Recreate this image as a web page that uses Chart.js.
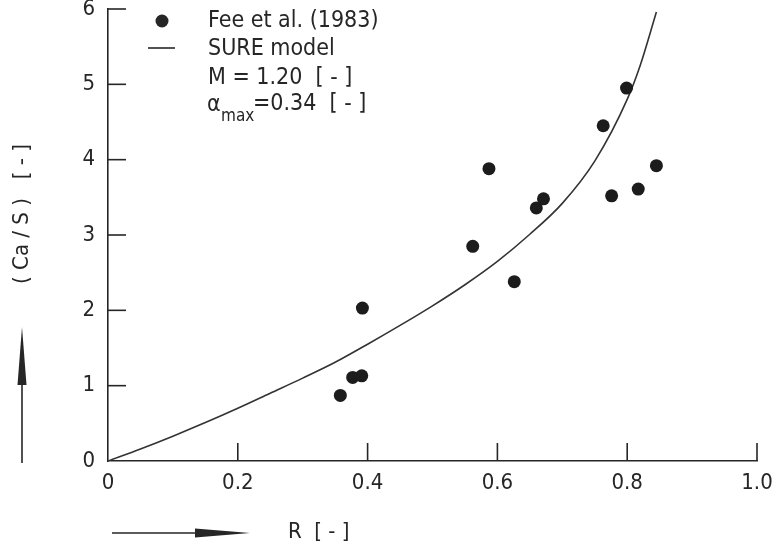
<!DOCTYPE html>
<html>
<head>
<meta charset="utf-8">
<script src="https://cdn.jsdelivr.net/npm/chart.js@4.4.0/dist/chart.umd.min.js"></script>
<style>
  html, body { margin: 0; padding: 0; background: #fff; }
  #wrap { width: 776px; height: 547px; position: relative; }
</style>
</head>
<body>
<div id="wrap"><canvas id="caChart"></canvas></div>
<script>
// DATA
const feeR   = [0.358, 0.377, 0.391, 0.392, 0.562, 0.587, 0.626, 0.660, 0.671, 0.763, 0.776, 0.799, 0.817, 0.845];
const feeCaS = [0.87, 1.11, 1.13, 2.03, 2.85, 3.88, 2.38, 3.36, 3.48, 4.45, 3.52, 4.95, 3.61, 3.92];

const sureR   = [0, 0.05, 0.10, 0.15, 0.20, 0.25, 0.30, 0.35, 0.40, 0.45, 0.50, 0.55, 0.60, 0.65, 0.70, 0.75, 0.80, 0.82, 0.845];
const sureCaS = [0, 0.16, 0.33, 0.51, 0.70, 0.90, 1.10, 1.31, 1.55, 1.80, 2.06, 2.34, 2.65, 3.01, 3.42, 3.98, 4.80, 5.25, 5.96];

const xTicks = [0, 0.2, 0.4, 0.6, 0.8, 1.0];
const xTickLabels = ["0", "0.2", "0.4", "0.6", "0.8", "1.0"];
const yTicks = [0, 1, 2, 3, 4, 5, 6];

const legendLines = ["Fee et al. (1983)", "SURE model", "M = 1.20  [ - ]"];
const xTitle = "R  [ - ]";
const yTitle = "( Ca / S )   [ - ]";

const ink = '#262626';
const fontName = "'DejaVu Sans Condensed', 'DejaVu Sans', sans-serif";
Chart.defaults.font.family = fontName;
Chart.defaults.color = ink;

// PLUGIN: inward ticks, legend text, axis titles with arrows
const paperPlugin = {
    id: 'paper',
    afterDraw(chart) {
        const ctx = chart.ctx;
        const xs = chart.scales.x;
        const ys = chart.scales.y;
        const area = chart.chartArea;
        ctx.save();
        ctx.strokeStyle = ink;
        ctx.fillStyle = ink;
        ctx.lineWidth = 1.6;

        // inward tick marks
        xTicks.forEach(function(v){
            if (v === 0) return;
            let px = xs.getPixelForValue(v);
            ctx.beginPath();
            ctx.moveTo(px, area.bottom);
            ctx.lineTo(px, area.bottom - 18);
            ctx.stroke();
        });
        yTicks.forEach(function(v){
            if (v === 0) return;
            let py = ys.getPixelForValue(v);
            ctx.beginPath();
            ctx.moveTo(area.left, py);
            ctx.lineTo(area.left + 18, py);
            ctx.stroke();
        });

        // legend
        ctx.font = "23px " + fontName;
        ctx.textBaseline = 'middle';
        ctx.textAlign = 'left';
        ctx.beginPath();
        ctx.arc(162, 21, 6.5, 0, Math.PI * 2);
        ctx.fill();
        ctx.beginPath();
        ctx.moveTo(148, 48);
        ctx.lineTo(175, 48);
        ctx.stroke();
        ctx.fillText(legendLines[0], 208, 21);
        ctx.fillText(legendLines[1], 208, 49);
        ctx.fillText(legendLines[2], 208, 78);
        ctx.fillText("\u03b1", 207, 105);
        ctx.font = "17px " + fontName;
        ctx.fillText("max", 221, 117);
        ctx.font = "23px " + fontName;
        ctx.fillText("=0.34  [ - ]", 253, 104);

        // x title + arrow
        ctx.font = "22px " + fontName;
        ctx.beginPath();
        ctx.moveTo(112, 533);
        ctx.lineTo(200, 533);
        ctx.stroke();
        ctx.beginPath();
        ctx.moveTo(195, 528.5);
        ctx.lineTo(250, 533);
        ctx.lineTo(195, 537.5);
        ctx.closePath();
        ctx.fill();
        ctx.fillText(xTitle, 288, 532);

        // y title + arrow
        ctx.beginPath();
        ctx.moveTo(22, 463);
        ctx.lineTo(22, 380);
        ctx.stroke();
        ctx.beginPath();
        ctx.moveTo(17.5, 385);
        ctx.lineTo(22, 327);
        ctx.lineTo(26.5, 385);
        ctx.closePath();
        ctx.fill();
        ctx.translate(22, 214);
        ctx.rotate(-Math.PI / 2);
        ctx.textAlign = 'center';
        ctx.fillText(yTitle, 0, 0);
        ctx.restore();
    }
};

const chartData = {
    datasets: [
        {
            label: 'Fee et al. (1983)',
            data: feeR.map((r, i) => ({ x: r, y: feeCaS[i] })),
            pointRadius: 6.5,
            pointBackgroundColor: '#1c1c1c',
            pointBorderWidth: 0,
            showLine: false
        },
        {
            label: 'SURE model',
            data: sureR.map((r, i) => ({ x: r, y: sureCaS[i] })),
            showLine: true,
            pointRadius: 0,
            borderColor: '#333',
            borderWidth: 1.6,
            cubicInterpolationMode: 'monotone'
        }
    ]
};

const chartConfig = {
    type: 'scatter',
    data: chartData,
    options: {
        responsive: true,
        maintainAspectRatio: false,
        animation: false,
        events: [],
        layout: { padding: { left: 0, right: 19, top: 9, bottom: 0 } },
        plugins: {
            legend: { display: false },
            tooltip: { enabled: false }
        },
        scales: {
            x: {
                type: 'linear',
                min: 0,
                max: 1,
                afterBuildTicks: s => { s.ticks = xTicks.map(v => ({ value: v })); },
                afterFit: s => { s.height = 86; s.paddingLeft = 0; s.paddingRight = 0; },
                ticks: {
                    padding: 9,
                    maxRotation: 0,
                    autoSkip: false,
                    font: { size: 22 },
                    callback: (v, i) => xTickLabels[i]
                },
                grid: { drawOnChartArea: false, drawTicks: false },
                border: { display: true, color: ink, width: 1.6 }
            },
            y: {
                type: 'linear',
                min: 0,
                max: 6,
                afterBuildTicks: s => { s.ticks = yTicks.map(v => ({ value: v })); },
                afterFit: s => { s.width = 108; s.paddingTop = 0; s.paddingBottom = 0; },
                ticks: {
                    padding: 13,
                    autoSkip: false,
                    font: { size: 22 }
                },
                grid: { drawOnChartArea: false, drawTicks: false },
                border: { display: true, color: ink, width: 1.6 }
            }
        }
    },
    plugins: [paperPlugin]
};

const caChart = new Chart(document.getElementById('caChart'), chartConfig);
</script>
</body>
</html>
